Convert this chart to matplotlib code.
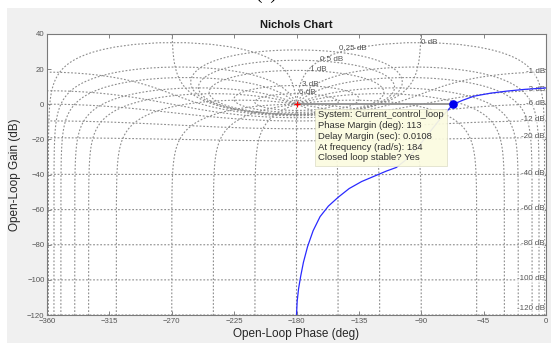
import numpy as np
import matplotlib
matplotlib.use('Agg')
import matplotlib.pyplot as plt
from matplotlib.patches import Rectangle

# ---------------- data ----------------
# closed-loop magnitude contours (dB) and closed-loop phase contours (deg) of the Nichols grid
mag_db = [6, 3, 1, 0.5, 0.25, 0, -1, -3, -6, -12, -20, -40, -60, -80, -100, -120]
phase_deg = [1, 5, 10, 20, 30, 50, 90, 120, 150, 180]

# labels of the positive contours near -180 deg
pos_labels = ['6 dB', '3 dB', '1 dB', '0.5 dB', '0.25 dB', '0 dB']
# labels of the negative contours at the right edge
neg_labels = ['-1 dB', '-3 dB', '-6 dB', '-12 dB', '-20 dB', '-40 dB',
              '-60 dB', '-80 dB', '-100 dB', '-120 dB']

# open-loop response
ol_phase = [-180, -179.5, -178.5, -177, -175, -172, -168, -163, -157, -150, -142,
            -133, -124, -115, -108, -100, -92, -84, -76, -67, -60, -52, -40, -28,
            -15, 0]
ol_gain = [-120, -112, -105, -98, -90, -81, -72, -64, -58, -53, -48,
           -44, -41, -38, -36, -31, -24, -16, -8, 0, 2.3, 4.6, 6.3, 7.5,
           8.5, 9.3]

pm_point_phase = -67
pm_point_gain = 0
tooltip_lines = ['System: Current_control_loop',
                 'Phase Margin (deg): 113',
                 'Delay Margin (sec): 0.0108',
                 'At frequency (rad/s): 184',
                 'Closed loop stable? Yes']

xticks = [-360, -315, -270, -225, -180, -135, -90, -45, 0]
yticks = [-120, -100, -80, -60, -40, -20, 0, 20, 40]

# ---------------- figure ----------------
plt.rcParams['font.family'] = ['Liberation Sans', 'DejaVu Sans']
fig = plt.figure(figsize=(5.51, 3.43), dpi=100, facecolor='white')
fig.add_artist(Rectangle((7 / 551, 0), 1, (343 - 8) / 343, transform=fig.transFigure,
                         facecolor='#f0f0f0', edgecolor='none', zorder=-10))
fig.text(266 / 551, 1 + 1.5 / 343, '(c)', fontsize=14, ha='center', va='baseline',
         family='Liberation Serif', color='black')

ax = fig.add_axes([47 / 551, 1 - 315 / 343, (546 - 47) / 551, (315 - 34) / 343])
ax.set_facecolor('white')
ax.set_xlim(-360, 0)
ax.set_ylim(-120, 40)

gcol = '#8c8c8c'
gls = (0, (1.6, 1.6))
glw = 0.8

def db(x):
    return 20 * np.log10(np.abs(x))

# magnitude contours
th = np.linspace(-np.pi, np.pi, 6001)
for md in mag_db:
    m = 10 ** (md / 20)
    if md == 0:
        yy = np.concatenate([-np.logspace(5, -5, 3000), np.logspace(-5, 5, 3000)])
        G = -0.5 + 1j * yy
        ph = np.mod(np.degrees(np.angle(G)), 360) - 360
        ax.plot(ph, db(G), color=gcol, ls=gls, lw=glw)
    elif m > 1:
        T = m * np.exp(1j * th)
        G = T / (1 - T)
        ph = np.mod(np.degrees(np.angle(G)), 360) - 360
        ax.plot(ph, db(G), color=gcol, ls=gls, lw=glw)
    else:
        T = m * np.exp(1j * th)
        G = T / (1 - T)
        ph = np.degrees(np.unwrap(np.angle(G)))
        ph = ph - ph[len(ph) // 2]
        for k in (0, -360):
            ax.plot(ph + k, db(G), color=gcol, ls=gls, lw=glw)

# phase contours
t = np.logspace(-8, 8, 6000)
for p in phase_deg:
    for s in (1, -1):
        if p == 180 and s == -1:
            continue
        psi = np.radians(s * p)
        T = t * np.exp(1j * psi)
        G = T / (1 - T)
        ph = np.degrees(np.unwrap(np.angle(G)))
        ph = ph - ph[0] + s * p
        if s > 0:
            ph = ph - 360
        ax.plot(ph, db(G), color=gcol, ls=gls, lw=glw)

# contour labels
lab_fs = 5.8
lab_col = '#555555'
pos_x = [-178, -176, -170, -163, -149, -90]
for md, lab, px in zip(mag_db[:6], pos_labels, pos_x):
    m = 10 ** (md / 20)
    if md == 0:
        gy = 35.4
    else:
        gy = db(m / (m - 1)) + 0.6
    ax.text(px, gy, lab, fontsize=lab_fs, color=lab_col, ha='left', va='center')
for md, lab in zip(mag_db[6:], neg_labels):
    m = 10 ** (md / 20)
    gy = max(db(m / (1 - m)) + 0.6, -116.5)
    ax.text(-0.8, gy, lab, fontsize=lab_fs, color=lab_col, ha='right', va='center',
            bbox=dict(facecolor='white', edgecolor='none', pad=0.2, alpha=0.6))

# open-loop curve
ax.plot(ol_phase, ol_gain, color='#2a2aff', lw=0.9, zorder=5)
# phase margin line and markers
ax.plot([-180, pm_point_phase], [0, pm_point_gain], color='#8f8f8f', lw=1.3, zorder=6)
ax.plot([-180], [0], marker='+', color='red', ms=5, mew=0.9, zorder=7)
ax.plot([pm_point_phase], [pm_point_gain], marker='o', color='#0000ee', ms=5.2, zorder=8)

# datatip box
x0 = -360 + (315 - 47) / 499 * 360
x1 = -360 + (447 - 47) / 499 * 360
y0 = (105 - 167) / 1.75
y1 = (105 - 110) / 1.75
ax.add_patch(Rectangle((x0, y0), x1 - x0, y1 - y0, facecolor='#fbfbe0',
                       edgecolor='#d8d8c0', lw=0.5, alpha=0.93, zorder=9))
ax.text(x0 + 2.0, y1 - 0.7, '\n'.join(tooltip_lines), fontsize=6.8, color='#303030',
        ha='left', va='top', linespacing=1.25, zorder=10)

# axes styling
ax.set_xticks(xticks)
ax.set_yticks(yticks)
ax.tick_params(direction='in', top=True, right=True, length=3, width=0.6,
               labelsize=5.6, labelcolor='#555555', color='#707070', pad=2.5)
ax.tick_params(axis='y', pad=1.8)
for sp in ax.spines.values():
    sp.set_color('#7a7a7a')
    sp.set_linewidth(0.8)
ax.set_title('Nichols Chart', fontsize=8, fontweight='bold', color='#1a1a1a', pad=4)
ax.set_xlabel('Open-Loop Phase (deg)', fontsize=8.5, color='#262626', labelpad=1.5)
ax.set_ylabel('Open-Loop Gain (dB)', fontsize=8.5, color='#262626', labelpad=4)

fig.savefig('out.png', dpi=100, facecolor=fig.get_facecolor())
